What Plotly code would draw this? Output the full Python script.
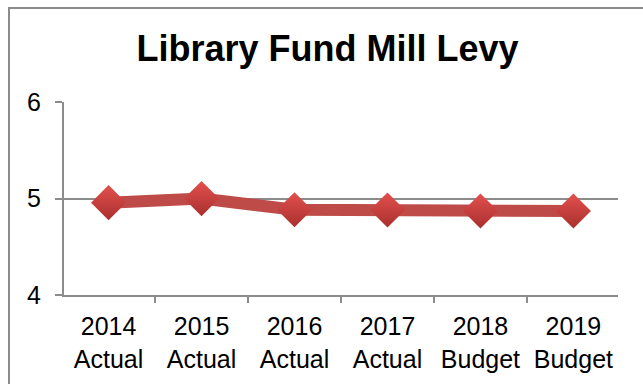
import plotly.graph_objects as go

# Library Fund mill levy by fiscal year
years = ["2014", "2015", "2016", "2017", "2018", "2019"]
stages = ["Actual", "Actual", "Actual", "Actual", "Budget", "Budget"]
mill_levy = [4.957, 4.999, 4.884, 4.881, 4.870, 4.870]

categories = [f"{y}<br>{s}" for y, s in zip(years, stages)]

W, H = 643, 384
L, R, T, B = 64, 25, 102, 89
plot_w = W - L - R
plot_h = H - T - B

fig = go.Figure()
fig.add_trace(go.Scatter(
    x=categories,
    y=mill_levy,
    mode="lines+markers",
    line=dict(color="#BE4B48", width=12),
    marker=dict(
        symbol="diamond",
        size=27,
        color="#E2504D",
        gradient=dict(type="vertical", color="#A9302E"),
        line=dict(width=0),
    ),
    hoverinfo="x+y",
))

# outer chart-area frame (runs off the right and bottom edges)
fig.add_shape(
    type="rect", xref="paper", yref="paper",
    x0=(9 - L) / plot_w, x1=(W + 20 - L) / plot_w,
    y0=-(H + 20 - T - plot_h) / plot_h, y1=(H - B - 8) / plot_h,
    line=dict(color="#8C8C8C", width=2), fillcolor="rgba(0,0,0,0)",
    layer="below",
)

fig.update_layout(
    width=W, height=H,
    margin=dict(l=L, r=R, t=T, b=B),
    paper_bgcolor="white", plot_bgcolor="white",
    showlegend=False,
    font=dict(family="Liberation Sans, Arial, sans-serif", color="black", size=25),
    title=dict(
        text="<b>Library Fund Mill Levy</b>",
        font=dict(size=36, color="black"),
        x=(327.5 - L) / plot_w, xref="paper", xanchor="center",
        y=1 - 48 / H, yref="container", yanchor="middle",
    ),
    xaxis=dict(
        type="category",
        tickson="boundaries",
        ticks="outside", ticklen=6, tickwidth=2, tickcolor="#8C8C8C",
        showline=True, linecolor="#8C8C8C", linewidth=2,
        showgrid=False, zeroline=False,
        tickfont=dict(size=25),
        ticklabelstandoff=8,
        fixedrange=True,
    ),
    yaxis=dict(
        range=[4, 6], tickvals=[4, 5, 6],
        ticks="outside", ticklen=7, tickwidth=2, tickcolor="#8C8C8C",
        showline=True, linecolor="#8C8C8C", linewidth=2,
        showgrid=True, gridcolor="#8C8C8C", gridwidth=2,
        zeroline=False,
        tickfont=dict(size=25),
        ticklabelstandoff=9,
        fixedrange=True,
    ),
)

fig.write_html("out.html", config={"displayModeBar": False})
